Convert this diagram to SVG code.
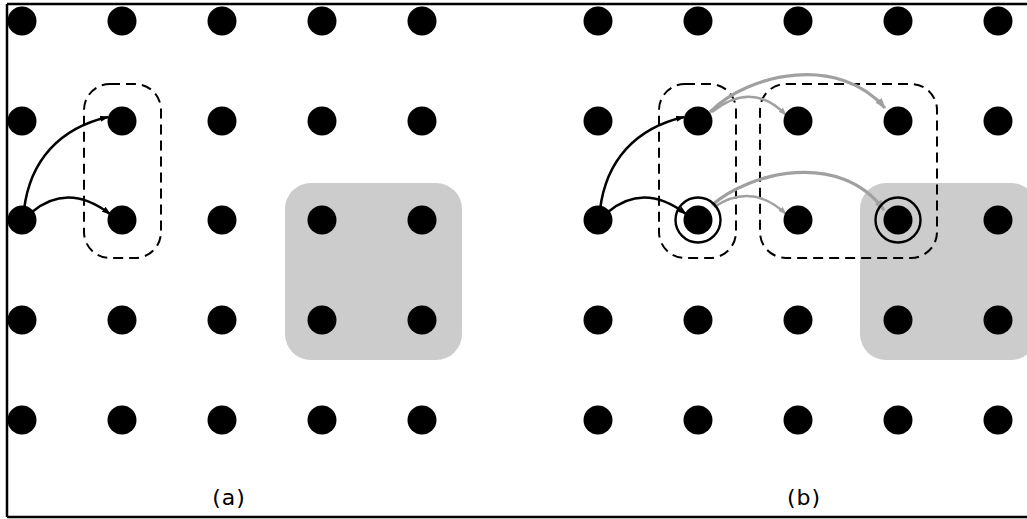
<svg xmlns="http://www.w3.org/2000/svg" width="1027" height="519" viewBox="0 0 1027 519">
<style>
.dot{fill:#000}
.zone{fill:#cccccc}
.grp{fill:none;stroke:#000;stroke-width:2;stroke-dasharray:10 6}
.ring{fill:none;stroke:#000;stroke-width:2.4}
.blk{fill:none;stroke:#000;stroke-width:2.5}
.gthick{fill:none;stroke:#a0a0a0;stroke-width:3.2}
.gthin{fill:none;stroke:#a0a0a0;stroke-width:2.4}
.lbl{font-family:"DejaVu Sans",sans-serif;font-size:22px;fill:#000;letter-spacing:1px}
.frame{stroke:#000;stroke-width:2.5;fill:none}
</style>
<defs>
<marker id="ab" viewBox="0 0 10 10" refX="9" refY="5" markerWidth="3.5" markerHeight="3.5" orient="auto" markerUnits="strokeWidth">
<path d="M0 1.5 L10 5 L0 8.5 z" fill="#000"/>
</marker>
<marker id="ag" viewBox="0 0 10 10" refX="9" refY="5" markerWidth="3.5" markerHeight="3.5" orient="auto" markerUnits="strokeWidth">
<path d="M0 1.5 L10 5 L0 8.5 z" fill="#a0a0a0"/>
</marker>
<circle id="d" r="14.5"/>
</defs>
<rect width="1027" height="519" fill="#fff"/>
<g id="frame">
<line class="frame" x1="7" y1="4" x2="1027" y2="4"/>
<line class="frame" x1="7" y1="4" x2="7" y2="517"/>
<line class="frame" x1="7" y1="517" x2="1027" y2="517"/>
</g>
<g id="zones">
<rect class="zone" x="285" y="183" width="177" height="177" rx="26"/>
<rect class="zone" x="860" y="183" width="177" height="177" rx="26"/>
</g>
<g id="groups">
<rect class="grp" x="84" y="84" width="77" height="174" rx="26"/>
<rect class="grp" x="659" y="84" width="77" height="174" rx="26"/>
<rect class="grp" x="760" y="84" width="177" height="174" rx="26"/>
</g>
<g id="connectors">
<path class="blk" d="M24 210 C30 160 60 128 108 117" marker-end="url(#ab)"/>
<path class="blk" d="M32 212 Q68 182 110 214" marker-end="url(#ab)"/>
<path class="blk" d="M600 210 C606 160 636 128 684 117" marker-end="url(#ab)"/>
<path class="blk" d="M608 212 Q644 182 686 214" marker-end="url(#ab)"/>
<path class="gthick" d="M710 112 C750 72 840 55 885 108" marker-end="url(#ag)"/>
<path class="gthin" d="M712 112 Q752 80 786 115" marker-end="url(#ag)"/>
<path class="gthick" d="M712 205 C750 172 840 150 884 210" marker-end="url(#ag)"/>
<path class="gthin" d="M714 207 Q752 182 786 214" marker-end="url(#ag)"/>
</g>
<g id="dots-a">
<use href="#d" x="22" y="21"/><use href="#d" x="122" y="21"/><use href="#d" x="222" y="21"/><use href="#d" x="322" y="21"/><use href="#d" x="422" y="21"/>
<use href="#d" x="22" y="121"/><use href="#d" x="122" y="121"/><use href="#d" x="222" y="121"/><use href="#d" x="322" y="121"/><use href="#d" x="422" y="121"/>
<use href="#d" x="22" y="220"/><use href="#d" x="122" y="220"/><use href="#d" x="222" y="220"/><use href="#d" x="322" y="220"/><use href="#d" x="422" y="220"/>
<use href="#d" x="22" y="320"/><use href="#d" x="122" y="320"/><use href="#d" x="222" y="320"/><use href="#d" x="322" y="320"/><use href="#d" x="422" y="320"/>
<use href="#d" x="22" y="420"/><use href="#d" x="122" y="420"/><use href="#d" x="222" y="420"/><use href="#d" x="322" y="420"/><use href="#d" x="422" y="420"/>
</g>
<g id="dots-b">
<use href="#d" x="598" y="21"/><use href="#d" x="698" y="21"/><use href="#d" x="798" y="21"/><use href="#d" x="898" y="21"/><use href="#d" x="998" y="21"/>
<use href="#d" x="598" y="121"/><use href="#d" x="698" y="121"/><use href="#d" x="798" y="121"/><use href="#d" x="898" y="121"/><use href="#d" x="998" y="121"/>
<use href="#d" x="598" y="220"/><use href="#d" x="698" y="220"/><use href="#d" x="798" y="220"/><use href="#d" x="898" y="220"/><use href="#d" x="998" y="220"/>
<use href="#d" x="598" y="320"/><use href="#d" x="698" y="320"/><use href="#d" x="798" y="320"/><use href="#d" x="898" y="320"/><use href="#d" x="998" y="320"/>
<use href="#d" x="598" y="420"/><use href="#d" x="698" y="420"/><use href="#d" x="798" y="420"/><use href="#d" x="898" y="420"/><use href="#d" x="998" y="420"/>
<circle class="ring" cx="698" cy="220" r="22.5"/>
<circle class="ring" cx="898" cy="220" r="22.5"/>
</g>
<g id="labels">
<text class="lbl" x="229" y="505" text-anchor="middle">(a)</text>
<text class="lbl" x="804" y="505" text-anchor="middle">(b)</text>
</g>
</svg>
